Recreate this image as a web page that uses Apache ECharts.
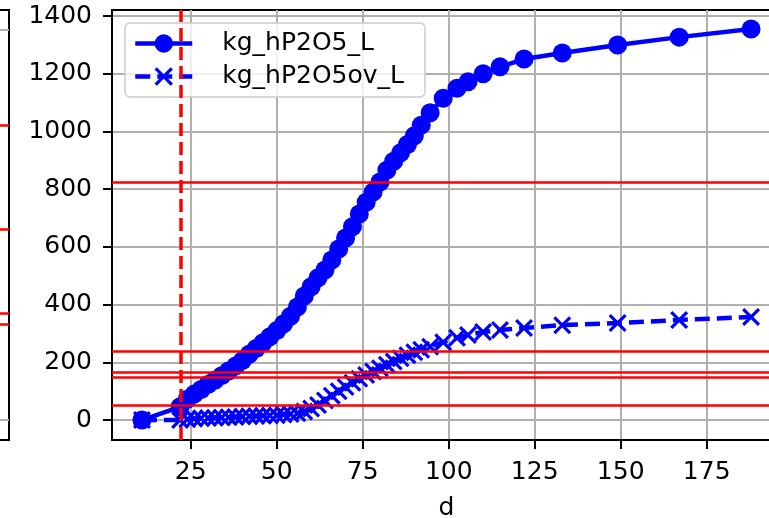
<!DOCTYPE html>
<html>
<head>
<meta charset="utf-8">
<script src="https://cdn.jsdelivr.net/npm/echarts@6/dist/echarts.min.js"></script>
<style>
  html, body { margin: 0; padding: 0; background: #fff; }
  #chart { width: 769px; height: 518px; }
</style>
</head>
<body>
<div id="chart"></div>
<script>
// d values shared by both series
const dValues = [10.8, 21.9, 24, 26, 28, 30, 32, 34, 36, 38, 40, 42, 44, 46, 48, 50, 52, 54, 56, 58,
  60, 62, 64, 66, 68, 70, 72, 74, 76, 78, 80, 82, 84, 86, 88, 90, 92, 94.6, 98.4, 102.4,
  105.6, 110, 114.9, 121.9, 133, 149.1, 167, 187.9];
const hP2O5 = [0, 46, 72, 90, 106, 123, 138, 154, 170, 187, 206, 228, 248, 268, 289, 310, 334, 360, 392, 430,
  462, 493, 520, 555, 593, 631, 670, 714, 755, 790, 825, 866, 897, 926, 955, 985, 1022, 1065, 1115, 1150,
  1172, 1200, 1224, 1251, 1272, 1300, 1327, 1355];
const hP2O5ov = [0, 0, 3, 5, 6, 7, 8, 9, 10, 11, 12, 13, 14, 15, 16, 17, 19, 21, 24, 30,
  40, 52, 68, 84, 100, 115, 129, 143, 156, 168, 180, 192, 203, 214, 225, 235, 244, 254, 270, 285,
  295, 305, 312, 319, 329, 336, 347, 357];

const xTicks = [25, 50, 75, 100, 125, 150, 175];
const yTicks = [0, 200, 400, 600, 800, 1000, 1200, 1400];
const redLevels = [823, 240, 167, 150, 50];
const dMarker = 22;

// neighbouring panel, only its right edge is in view
const leftTicks = [0, 2000];
const leftRedLevels = [1513, 979, 549, 492];

const FONT = 'DejaVu Sans';
const BLUE = '#0000ff';
const xMarker = 'path://M0,1.25 L1.25,0 L5,3.75 L8.75,0 L10,1.25 L6.25,5 L10,8.75 L8.75,10 L5,6.25 L1.25,10 L0,8.75 L3.75,5 Z';

const chart = echarts.init(document.getElementById('chart'));

const gridLine = { show: true, lineStyle: { color: '#b0b0b0', width: 2 } };
const redLine = (v) => ({ yAxis: v, lineStyle: { color: '#ff0000', width: 2.5, type: 'solid' } });

chart.setOption({
  animation: false,
  backgroundColor: '#fff',
  grid: [
    { left: 112, top: 10, width: 669, height: 430, show: true, borderColor: '#000', borderWidth: 2,
      backgroundColor: '#fff', containLabel: false, outerBoundsMode: 'none' },
    { left: -200, top: 10, width: 209, height: 430, show: true, borderColor: '#000', borderWidth: 2,
      backgroundColor: '#fff', containLabel: false, outerBoundsMode: 'none' }
  ],
  legend: {
    data: ['kg_hP2O5_L', 'kg_hP2O5ov_L'],
    orient: 'vertical',
    left: 125,
    top: 23,
    padding: [8, 21, 8, 8],
    itemGap: 8,
    itemWidth: 57,
    itemHeight: 23,
    backgroundColor: 'rgba(255,255,255,0.8)',
    borderColor: '#cccccc',
    borderWidth: 1.5,
    borderRadius: 5,
    lineStyle: { width: 4.5 },
    textStyle: { fontFamily: FONT, fontSize: 25, color: '#000', padding: [0, 0, 0, 25] }
  },
  xAxis: [
    {
      type: 'value', gridIndex: 0, min: 2.1, max: 196.6,
      name: 'd', nameLocation: 'middle', nameGap: 56,
      nameTextStyle: { fontFamily: FONT, fontSize: 25, color: '#000' },
      axisLine: { show: true, onZero: false, lineStyle: { color: '#000', width: 2 } },
      axisTick: { show: true, length: 9, customValues: xTicks, lineStyle: { color: '#000', width: 2 } },
      axisLabel: { customValues: xTicks, margin: 20, fontFamily: FONT, fontSize: 25, color: '#000' },
      splitLine: gridLine
    },
    {
      type: 'value', gridIndex: 1, min: 0, max: 1, show: false
    }
  ],
  yAxis: [
    {
      type: 'value', gridIndex: 0, min: -69, max: 1421,
      axisLine: { show: true, onZero: false, lineStyle: { color: '#000', width: 2 } },
      axisTick: { show: true, length: 9, customValues: yTicks, lineStyle: { color: '#000', width: 2 } },
      axisLabel: { customValues: yTicks, margin: 20, fontFamily: FONT, fontSize: 25, color: '#000',
        formatter: (v) => String(v) },
      splitLine: gridLine
    },
    {
      type: 'value', gridIndex: 1, min: -102.6, max: 2102.6,
      axisLine: { show: false },
      axisTick: { show: false, customValues: leftTicks },
      axisLabel: { show: false, customValues: leftTicks },
      splitLine: gridLine
    }
  ],
  series: [
    {
      name: 'kg_hP2O5_L',
      type: 'line',
      xAxisIndex: 0, yAxisIndex: 0,
      data: dValues.map((d, i) => [d, hP2O5[i]]),
      symbol: 'circle',
      symbolSize: 19,
      showAllSymbol: true,
      itemStyle: { color: BLUE },
      lineStyle: { color: BLUE, width: 4.5 },
      emphasis: { disabled: true },
      z: 2
    },
    {
      name: 'kg_hP2O5ov_L',
      type: 'line',
      xAxisIndex: 0, yAxisIndex: 0,
      data: dValues.map((d, i) => [d, hP2O5ov[i]]),
      symbol: xMarker,
      symbolSize: 18,
      showAllSymbol: true,
      itemStyle: { color: BLUE },
      lineStyle: { color: BLUE, width: 4.5, type: [15, 7] },
      emphasis: { disabled: true },
      z: 2
    },
    {
      name: 'refs',
      type: 'line',
      xAxisIndex: 0, yAxisIndex: 0,
      data: [],
      z: 3,
      markLine: {
        silent: true,
        symbol: ['none', 'none'],
        label: { show: false },
        animation: false,
        data: redLevels.map(redLine).concat([
          { xAxis: dMarker, lineStyle: { color: '#ff0000', width: 3.5, type: [13, 6] } }
        ])
      }
    },
    {
      name: 'leftRefs',
      type: 'line',
      xAxisIndex: 1, yAxisIndex: 1,
      data: [],
      z: 3,
      markLine: {
        silent: true,
        symbol: ['none', 'none'],
        label: { show: false },
        animation: false,
        data: leftRedLevels.map(redLine)
      }
    }
  ]
});
</script>
</body>
</html>
